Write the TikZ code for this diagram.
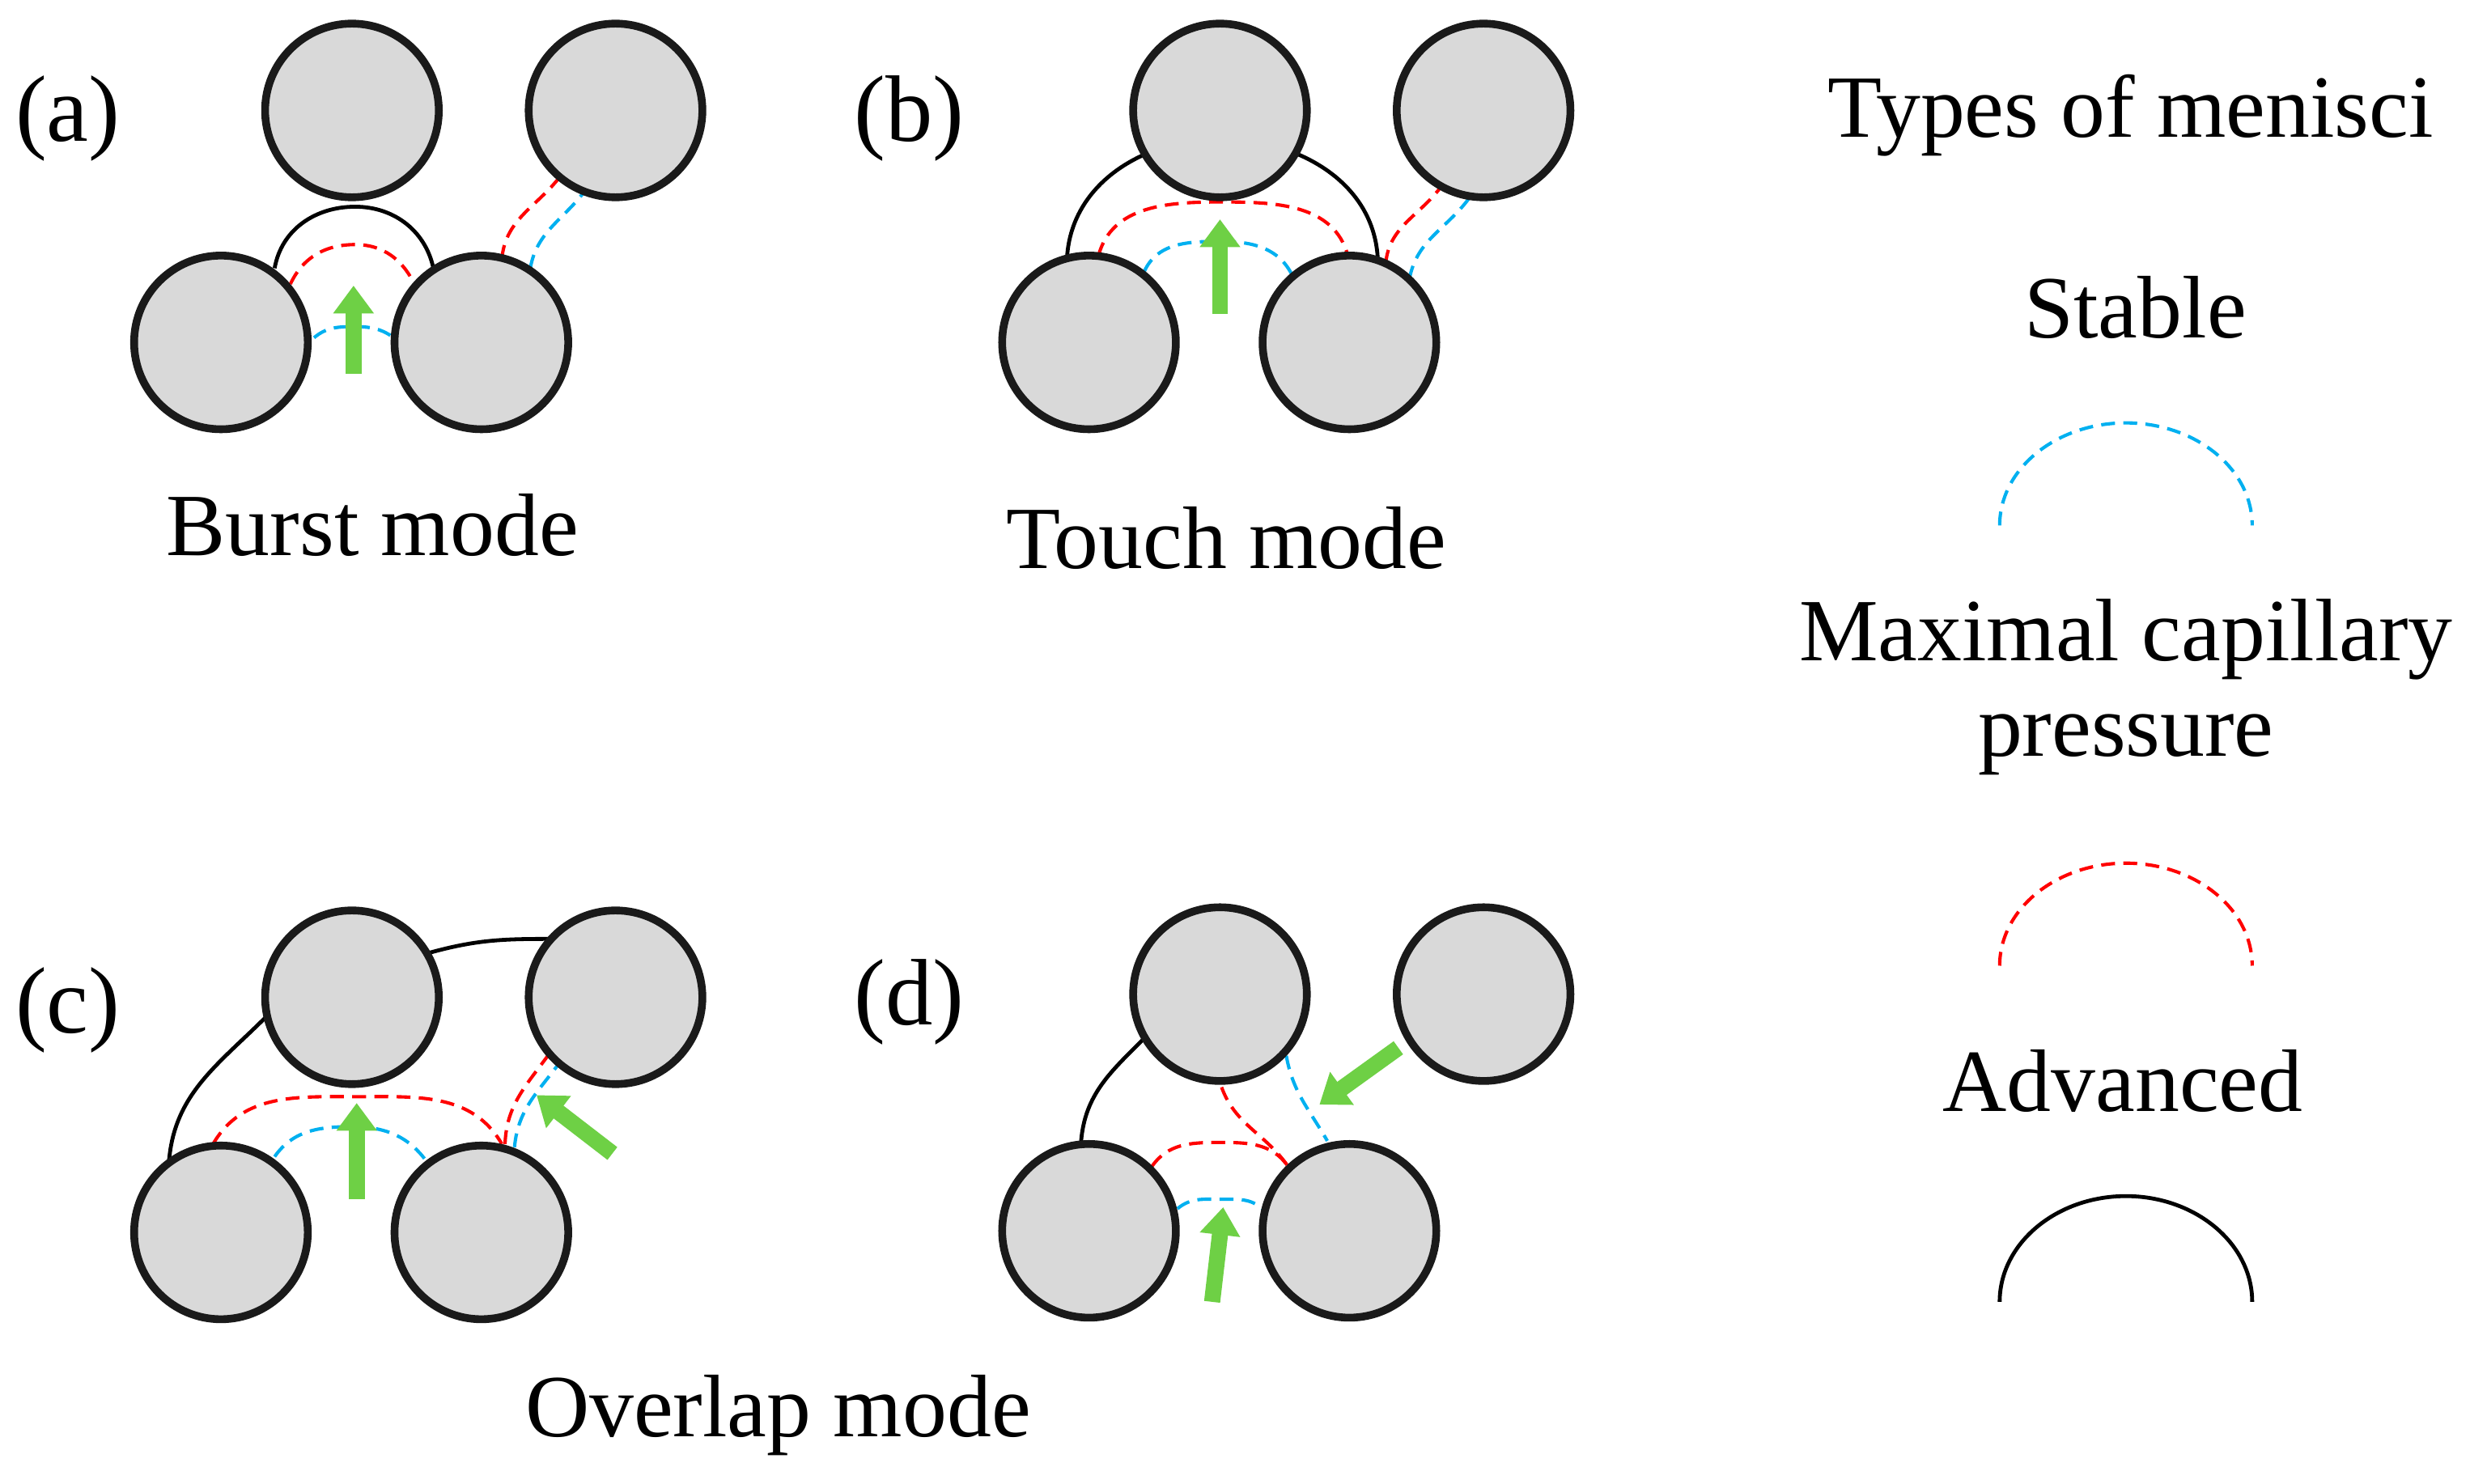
\documentclass[tikz,border=0pt]{standalone}
\usepackage{fontspec}
\setmainfont{Liberation Serif}
\usetikzlibrary{arrows.meta}
\pgfdeclarelayer{bg}
\pgfsetlayers{bg,main}
\definecolor{grain}{HTML}{D9D9D9}
\definecolor{edge}{HTML}{1A1A1A}
\definecolor{stab}{HTML}{00B0F0}
\definecolor{maxp}{HTML}{FF0000}
\definecolor{flow}{HTML}{6ED045}
\tikzset{
  grainc/.style={circle,draw=edge,fill=grain,line width=1.4pt,minimum size=1.1cm,inner sep=0pt,outer sep=0pt},
  stable/.style={draw=stab,dashed,line width=0.6pt,dash pattern=on 2.5pt off 1.5pt},
  maxcap/.style={draw=maxp,dashed,line width=0.6pt,dash pattern=on 2.5pt off 1.5pt},
  adv/.style={draw=black,line width=0.7pt},
  push/.style={draw=flow,line width=2.9pt,-{Triangle[width=7pt,length=5pt]}},
  lab/.style={font=\fontsize{16}{19}\selectfont,inner sep=0pt},
  plab/.style={font=\fontsize{17}{20}\selectfont,inner sep=0pt}
}
\begin{document}
\begin{tikzpicture}[x=0.01cm,y=0.01cm]
\useasboundingbox (0,0) rectangle (1565,-940);
% (a)
\node[grainc] (a1) at (223,-70) {};
\node[grainc] (a2) at (390,-70) {};
\node[grainc] (a3) at (140,-217) {};
\node[grainc] (a4) at (305,-217) {};
% (b)
\node[grainc] (b1) at (773,-70) {};
\node[grainc] (b2) at (940,-70) {};
\node[grainc] (b3) at (690,-217) {};
\node[grainc] (b4) at (855,-217) {};
% (c)
\node[grainc] (c1) at (223,-632) {};
\node[grainc] (c2) at (390,-632) {};
\node[grainc] (c3) at (140,-781) {};
\node[grainc] (c4) at (305,-781) {};
% (d)
\node[grainc] (d1) at (773,-630) {};
\node[grainc] (d2) at (940,-630) {};
\node[grainc] (d3) at (690,-780) {};
\node[grainc] (d4) at (855,-780) {};

\begin{pgfonlayer}{bg}
% (a)
\draw[adv] (174,-170) to[out=80,in=180] (225,-131) to[out=0,in=100] (275,-172);
\draw[maxcap] (184,-180) to[out=65,in=180] (225,-155) to[out=0,in=115] (263,-181);
\draw[stable] (199,-214) to[out=40,in=180] (225,-207) to[out=0,in=140] (252,-216);
\draw[maxcap] (318,-164) to[out=85,in=235] (357,-109);
\draw[stable] (336,-170) to[out=80,in=235] (372,-119);
% (b)
\draw[adv] (676,-165) to[out=88,in=180] (773,-88) to[out=0,in=92] (873,-165);
\draw[maxcap] (696,-162) to[out=75,in=180] (774,-128) to[out=0,in=105] (854,-162);
\draw[stable] (725,-172) to[out=65,in=180] (774,-153) to[out=0,in=115] (819,-175);
\draw[maxcap] (878,-167) to[out=85,in=235] (914,-117);
\draw[stable] (893,-177) to[out=80,in=235] (932,-124);
% (c)
\draw[adv] (107,-737) to[out=86,in=225] (169,-644) to[out=45,in=195] (275,-603) to[out=15,in=180] (350,-595);
\draw[maxcap] (135,-725) to[out=60,in=180] (226,-695) to[out=0,in=120] (318,-725);
\draw[stable] (174,-733) to[out=55,in=180] (223,-714) to[out=0,in=125] (271,-737);
\draw[maxcap] (320,-725) to[out=88,in=235] (350,-665);
\draw[stable] (326,-727) to[out=85,in=235] (357,-670);
% (d)
\draw[adv] (685,-723) to[out=85,in=225] (725,-658);
\draw[maxcap] (730,-739) to[out=55,in=180] (771,-724) to[out=0,in=125] (816,-739);
\draw[maxcap] (774,-689) to[out=-70,in=125] (816,-739);
\draw[stable] (815,-669) to[out=-80,in=120] (841,-723);
\draw[stable] (746,-766) to[out=40,in=180] (774,-760) to[out=0,in=140] (800,-766);
\end{pgfonlayer}

% flow arrows
\coordinate (fa0) at (224,-237); \coordinate (fa1) at (224,-181);
\coordinate (fb0) at (773,-199); \coordinate (fb1) at (773,-139);
\coordinate (fc0) at (226,-760); \coordinate (fc1) at (226,-699);
\coordinate (fc2) at (388,-731); \coordinate (fc3) at (340,-694);
\coordinate (fd0) at (768,-825); \coordinate (fd1) at (775,-765);
\coordinate (fd2) at (886,-664); \coordinate (fd3) at (836,-700);
\draw[push] (fa0) -- (fa1);
\draw[push] (fb0) -- (fb1);
\draw[push] (fc0) -- (fc1);
\draw[push] (fc2) -- (fc3);
\draw[push] (fd0) -- (fd1);
\draw[push] (fd2) -- (fd3);

% labels
\node[plab] (la) at (43,-75) {(a)};
\node[plab] (lb) at (576,-75) {(b)};
\node[plab] (lc) at (43,-640) {(c)};
\node[plab] (ld) at (576,-635) {(d)};
\node[lab] (ta) at (236,-333) {Burst mode};
\node[lab] (tb) at (777,-341) {Touch mode};
\node[lab] (tc) at (493,-897) {Overlap mode};

% legend
\node[lab] (g0) at (1350,-73) {Types of menisci};
\node[lab] (g1) at (1353,-195) {Stable};
\node[lab] (g2) at (1347,-405) {Maximal capillary};
\node[lab] (g3) at (1347,-472) {pressure};
\node[lab] (g4) at (1345,-685) {Advanced};
\draw[stable] (1267,-333) .. controls (1267,-297) and (1303,-268) .. (1347,-268) .. controls (1391,-268) and (1427,-297) .. (1427,-333);
\draw[maxcap] (1267,-612) .. controls (1267,-576) and (1303,-547) .. (1347,-547) .. controls (1391,-547) and (1427,-576) .. (1427,-612);
\draw[adv] (1267,-825) .. controls (1267,-788) and (1303,-758) .. (1347,-758) .. controls (1391,-758) and (1427,-788) .. (1427,-825);
\end{tikzpicture}
\end{document}
